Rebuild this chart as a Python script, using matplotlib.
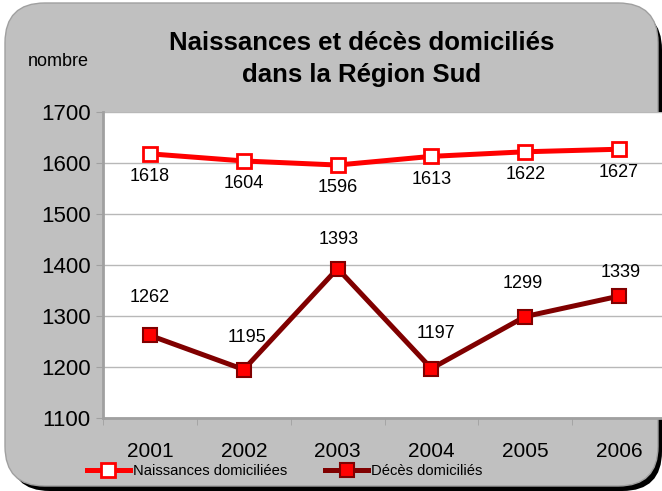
import matplotlib
matplotlib.use('Agg')
import matplotlib.pyplot as plt
from matplotlib.patches import FancyBboxPatch

plt.rcParams['font.family'] = ['Liberation Sans', 'DejaVu Sans']

years = ['2001', '2002', '2003', '2004', '2005', '2006']
naissances = [1618, 1604, 1596, 1613, 1622, 1627]
deces = [1262, 1195, 1393, 1197, 1299, 1339]

# label offsets (points) for the décès labels, placed by hand in the original
deces_dx = [0, 2, 1, 3.5, -2, 1.5]
deces_dy = [27, 23, 21, 25, 23.5, 17]

W, H = 662, 491
fig = plt.figure(figsize=(W / 100, H / 100), dpi=100)
fig.patch.set_facecolor('white')

# shadow + rounded grey panel
shadow = FancyBboxPatch((10 / W, 0 / H), (W - 10) / W, (H - 10) / H,
                        boxstyle='round,pad=0,rounding_size=0.06',
                        transform=fig.transFigure, facecolor='black',
                        edgecolor='none', zorder=0, mutation_aspect=W / H)
panel = FancyBboxPatch((5 / W, 5 / H), (W - 9) / W, (H - 8) / H,
                       boxstyle='round,pad=0,rounding_size=0.06',
                       transform=fig.transFigure, facecolor='#c0c0c0',
                       edgecolor='#a0a0a0', linewidth=1, zorder=1,
                       mutation_aspect=W / H)
fig.patches.extend([shadow, panel])

ax = fig.add_axes([103 / W, 1 - 418 / H, 563 / W, 306 / H])
ax.set_zorder(2)
ax.set_facecolor('white')
x = list(range(len(years)))

ax.plot(x, naissances, color='#ff0000', linewidth=3.6, marker='s', markersize=10,
        markerfacecolor='white', markeredgecolor='#ff0000', markeredgewidth=2,
        label='Naissances domiciliées', zorder=3)
ax.plot(x, deces, color='#800000', linewidth=3.6, marker='s', markersize=10,
        markerfacecolor='#ff0000', markeredgecolor='#800000', markeredgewidth=1.5,
        label='Décès domiciliés', zorder=3)

for i, v in enumerate(naissances):
    ax.annotate(str(v), (i, v), xytext=(0, -16.5), textcoords='offset points',
                ha='center', va='center', fontsize=13)
for i, v in enumerate(deces):
    ax.annotate(str(v), (i, v), xytext=(deces_dx[i], deces_dy[i]),
                textcoords='offset points', ha='center', va='center', fontsize=13)

ax.set_xlim(-0.5, 5.5)
ax.set_ylim(1100, 1700)
ax.set_yticks(range(1100, 1701, 100))
ax.set_xticks(x)
ax.set_xticklabels(years, fontsize=15)
ax.set_xticks([i - 0.5 for i in range(len(years) + 1)], minor=True)
ax.tick_params(axis='x', which='major', length=0, pad=17)
ax.tick_params(axis='x', which='minor', length=5, color='#a0a0a0', direction='out')
ax.tick_params(axis='y', labelsize=16, length=5, color='#a0a0a0', pad=4)
ax.grid(axis='y', color='#b8b8b8', linewidth=1)
ax.set_axisbelow(True)
for s in ['top', 'right']:
    ax.spines[s].set_visible(False)
ax.spines['left'].set_color('#a0a0a0')
ax.spines['left'].set_linewidth(2)
ax.spines['bottom'].set_color('#a0a0a0')
ax.spines['bottom'].set_linewidth(2)

fig.text(362 / W, 1 - 59 / H, 'Naissances et décès domiciliés\ndans la Région Sud',
         ha='center', va='center', fontsize=18.5, fontweight='bold', linespacing=1.45)
fig.text(58 / W, 1 - 61 / H, 'nombre', ha='center', va='center', fontsize=13)

fig.legend(loc='center left', bbox_to_anchor=(87 / W, 1 - 471 / H), ncol=2,
           frameon=False, fontsize=10.6, handlelength=2.9, columnspacing=2.6,
           handletextpad=0.2, borderaxespad=0, borderpad=0)

fig.savefig('out.png', dpi=100, facecolor=fig.get_facecolor())
